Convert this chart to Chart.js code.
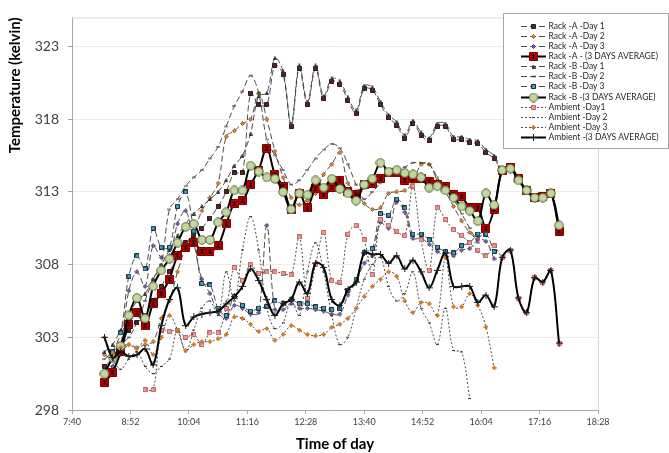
<!DOCTYPE html>
<html>
<head>
<meta charset="utf-8">
<script src="https://cdn.jsdelivr.net/npm/chart.js@4.4.0/dist/chart.umd.min.js"></script>
<style>
  html, body { margin: 0; padding: 0; background: #fff; }
  #wrap { width: 669px; height: 453px; }
</style>
</head>
<body>
<div id="wrap"><canvas id="chart" width="669" height="453"></canvas></div>
<script>
// sample times (10 min readings)
const times = [
  '8:20','8:30','8:40','8:50','9:00','9:10','9:20','9:30','9:40','9:50',
  '10:00','10:10','10:20','10:30','10:40','10:50','11:00','11:10','11:20','11:30',
  '11:40','11:50','12:00','12:10','12:20','12:30','12:40','12:50','13:00','13:10',
  '13:20','13:30','13:40','13:50','14:00','14:10','14:20','14:30','14:40','14:50',
  '15:00','15:10','15:20','15:30','15:40','15:50','16:00','16:10','16:20','16:30',
  '16:40','16:50','17:00','17:10','17:20','17:30','17:40'
];
const xTickLabels = ['7:40','8:52','10:04','11:16','12:28','13:40','14:52','16:04','17:16','18:28'];
const yTickValues = [298, 303, 308, 313, 318, 323];

const rackA1 = [
  301.0,301.5,302.5,303.5,304.0,304.5,305.5,306.5,307.5,308.5,
  309.5,310.0,310.5,311.2,312.0,313.0,314.3,314.3,319.8,319.0,
  319.0,321.7,321.1,317.5,321.5,319.0,321.5,319.4,320.6,320.4,
  319.3,318.4,320.1,320.0,319.0,318.1,317.6,316.7,317.7,316.9,
  316.5,317.5,317.5,316.6,316.6,316.4,316.3,315.7,315.3,314.5,
  314.7,313.9,313.1,312.6,312.7,312.9,310.3
];
const rackA2 = [
  301.8,301.5,301.8,302.5,302.3,302.5,302.7,304.3,305.5,307.5,
  309.2,310.3,311.7,312.6,313.6,316.8,317.2,317.7,318.0,319.8,
  318.0,315.8,314.0,312.6,312.1,312.4,312.9,314.2,314.9,315.7,
  313.6,313.0,312.2,311.8,311.9,312.9,313.0,313.1,313.6,314.9,
  314.9,313.8,313.0,312.0,311.0,310.2,309.8,310.5,null,null,
  null,null,null,null,null,null,null
];
const rackA3 = [
  300.5,301.0,302.5,306.2,307.5,306.5,309.3,308.5,308.6,310.8,
  311.7,309.5,307.0,306.0,304.7,304.3,305.2,305.0,304.6,304.7,
  310.7,304.9,304.9,305.3,305.0,305.0,304.9,304.8,304.6,304.6,
  305.9,306.8,308.1,308.6,310.9,310.5,312.3,311.6,309.8,309.8,
  309.4,308.9,308.6,308.6,309.0,309.1,309.7,309.6,308.4,null,
  null,null,null,null,null,null,null
];
const rackAAvg = [
  299.9,300.6,302.0,303.9,304.7,303.8,305.3,306.0,307.0,308.6,
  309.2,309.5,308.9,308.9,309.3,310.8,312.2,312.4,313.5,314.5,
  316.0,314.2,313.4,311.8,312.9,311.9,313.2,312.8,313.3,313.8,
  313.0,312.8,313.5,313.6,313.9,314.3,314.3,313.8,313.9,313.9,
  313.7,313.5,313.4,312.8,312.7,311.9,311.9,310.5,311.8,314.5,
  314.7,313.9,313.1,312.6,312.7,312.9,310.3
];
const rackB1 = [
  302.0,302.5,303.5,304.5,305.5,306.0,307.0,308.0,309.0,310.0,
  310.8,311.5,312.0,312.5,313.0,313.8,314.8,315.5,317.0,319.6,
  319.8,322.2,321.3,317.7,321.7,319.2,321.7,319.6,320.8,320.6,
  319.5,318.6,320.3,320.2,319.2,318.3,317.8,316.9,317.9,317.1,
  316.7,317.7,317.7,316.8,316.8,316.6,316.5,315.9,315.5,314.5,
  314.6,313.8,313.1,312.6,312.6,312.9,310.7
];
const rackB2 = [
  301.5,302.0,302.5,303.0,304.0,305.5,307.0,308.0,311.8,312.5,
  313.4,314.0,314.5,315.3,316.1,317.5,318.9,319.9,321.0,319.8,
  316.6,315.5,314.5,313.5,313.8,314.5,315.3,315.9,316.3,316.0,
  314.9,313.5,312.5,313.0,313.6,314.2,314.5,314.7,315.0,315.0,
  314.9,314.0,313.2,312.5,311.5,310.5,309.5,null,null,null,
  null,null,null,null,null,null,null
];
const rackB3 = [
  null,302.0,303.3,307.2,308.6,307.7,310.5,309.2,309.2,312.0,
  313.0,310.3,306.7,306.6,305.0,304.5,305.8,305.2,304.8,305.0,
  305.1,305.5,305.3,305.6,305.3,305.3,305.1,305.0,304.9,305.0,
  306.2,307.0,308.8,309.1,311.5,311.4,312.5,311.9,310.1,310.1,
  309.7,309.2,308.9,308.8,309.3,309.5,310.1,310.1,308.9,null,
  null,null,null,null,null,null,null
];
const rackBAvg = [
  300.5,301.6,302.4,304.5,305.7,304.3,306.5,307.6,308.4,309.5,
  310.6,310.8,309.7,309.7,310.9,311.6,313.1,313.1,314.8,314.4,
  314.0,313.9,313.0,311.8,312.9,312.8,313.8,313.3,313.9,313.2,
  312.9,312.4,313.5,313.9,315.0,314.4,314.5,314.3,314.2,314.0,
  313.3,313.4,313.1,312.6,312.0,311.7,311.0,312.9,312.1,314.5,
  314.6,313.8,313.1,312.6,312.6,312.9,310.7
];
const ambient1 = [
  null,null,null,null,null,299.4,299.4,303.5,303.4,303.5,
  303.0,303.2,302.5,303.3,303.3,305.0,307.8,306.9,308.0,307.4,
  307.5,307.5,307.4,307.3,309.9,305.7,308.0,310.2,306.9,306.8,
  310.1,310.7,309.7,307.3,311.1,310.7,310.3,310.0,313.4,309.7,
  307.6,311.9,311.1,310.4,310.0,309.5,309.0,308.6,309.3,308.5,
  309.0,305.7,304.7,307.1,306.8,307.6,302.6
];
const ambient2 = [
  null,301.5,300.8,301.5,302.0,301.0,300.5,301.0,301.5,303.5,
  302.0,303.5,305.0,305.5,304.5,307.5,305.5,309.0,311.3,309.0,
  305.0,303.6,304.0,305.5,304.5,307.5,309.5,307.5,304.5,302.5,
  303.0,305.0,307.0,308.0,308.5,306.5,305.5,306.0,307.5,305.0,
  304.0,302.5,305.0,302.1,302.0,298.8,null,null,null,null,
  null,null,null,null,null,null,null
];
const ambient3 = [
  303.0,301.9,302.3,302.5,302.2,302.8,301.8,303.0,304.5,303.5,
  302.1,302.5,302.7,302.7,302.9,303.2,304.4,304.3,303.9,303.4,
  303.6,302.8,303.2,303.8,303.5,303.2,303.1,303.2,303.7,303.9,
  304.3,305.0,305.8,306.5,307.0,307.5,307.2,305.5,304.7,305.4,
  305.3,304.5,308.5,305.1,305.1,306.0,305.2,303.7,300.9,null,
  null,null,null,null,null,null,null
];
const ambientAvg = [
  303.0,301.6,302.0,301.7,301.8,302.2,301.1,303.8,305.6,306.4,
  303.8,304.4,304.6,304.7,304.8,305.3,305.8,306.5,307.7,306.9,
  305.6,304.5,305.3,305.6,306.8,306.0,308.1,307.8,305.6,305.2,
  306.3,306.8,308.8,308.7,308.7,308.1,308.6,307.7,308.3,307.5,
  306.4,307.6,308.8,306.5,306.5,306.5,305.4,305.9,305.1,308.5,
  309.0,305.7,304.7,307.1,306.8,307.6,302.6
];

const toMinutes = (label) => {
  const [h, m] = label.split(':').map(Number);
  return h * 60 + m;
};
const xTickValues = xTickLabels.map(toMinutes);
const timeMinutes = times.map(toMinutes);
const fmtTime = (v) => `${Math.floor(v / 60)}:${String(v % 60).padStart(2, '0')}`;

// small canvas markers, Excel style
function makeMarker(kind, size, fill, stroke) {
  const c = document.createElement('canvas');
  c.width = size;
  c.height = size;
  const g = c.getContext('2d');
  const m = size / 2;
  g.fillStyle = fill;
  g.strokeStyle = stroke;
  g.lineWidth = 1;
  g.beginPath();
  if (kind === 'square' || kind === 'squareX') {
    g.rect(0.5, 0.5, size - 1, size - 1);
    g.fill();
    g.stroke();
    if (kind === 'squareX') {
      g.beginPath();
      g.strokeStyle = '#000';
      g.moveTo(2.5, 2.5); g.lineTo(size - 2.5, size - 2.5);
      g.moveTo(size - 2.5, 2.5); g.lineTo(2.5, size - 2.5);
      g.moveTo(m, 2); g.lineTo(m, size - 2);
      g.stroke();
    }
  } else if (kind === 'diamond') {
    g.moveTo(m, 0.5); g.lineTo(size - 0.5, m); g.lineTo(m, size - 0.5); g.lineTo(0.5, m);
    g.closePath(); g.fill(); g.stroke();
  } else if (kind === 'triangle') {
    g.moveTo(m, 0.5); g.lineTo(size - 0.5, size - 0.5); g.lineTo(0.5, size - 0.5);
    g.closePath(); g.fill(); g.stroke();
  } else if (kind === 'circle') {
    g.arc(m, m, m - 0.75, 0, Math.PI * 2);
    g.fill(); g.stroke();
  } else if (kind === 'dash') {
    g.fillStyle = stroke;
    g.fillRect(0, m - 0.5, size, 1);
  } else if (kind === 'plus') {
    g.moveTo(m, 0); g.lineTo(m, size);
    g.moveTo(0, m); g.lineTo(size, m);
    g.stroke();
  } else if (kind === 'star') {
    g.moveTo(m, 0); g.lineTo(m, size);
    g.moveTo(0, m); g.lineTo(size, m);
    g.moveTo(1, 1); g.lineTo(size - 1, size - 1);
    g.moveTo(size - 1, 1); g.lineTo(1, size - 1);
    g.stroke();
  }
  return c;
}

const DASH = [6, 3];
const DOT = [2, 2];
const THIN = '#3a3a3a';

const seriesDefs = [
  { label: 'Rack -A -Day 1', data: rackA1, width: 0.9, dash: DASH, color: THIN, marker: makeMarker('square', 5, '#6b1d1d', '#1e1e1e') },
  { label: 'Rack -A -Day 2', data: rackA2, width: 0.9, dash: DASH, color: THIN, marker: makeMarker('diamond', 5, '#e3892f', '#8a5622') },
  { label: 'Rack -A -Day 3', data: rackA3, width: 0.9, dash: DASH, color: THIN, marker: makeMarker('diamond', 5, '#7d64a8', '#4d3a70') },
  { label: 'Rack -A - (3 DAYS AVERAGE)', data: rackAAvg, width: 2, dash: [], color: '#000', marker: makeMarker('squareX', 9, '#c00000', '#7a0000') },
  { label: 'Rack -B -Day 1', data: rackB1, width: 0.9, dash: DASH, color: THIN, marker: makeMarker('triangle', 4, '#333', '#333') },
  { label: 'Rack -B -Day 2', data: rackB2, width: 0.9, dash: DASH, color: THIN, marker: makeMarker('dash', 4, '#333', '#333') },
  { label: 'Rack -B -Day 3', data: rackB3, width: 0.9, dash: DASH, color: THIN, marker: makeMarker('square', 5, '#3aa3c4', '#1c2a30') },
  { label: 'Rack -B -(3 DAYS AVERAGE)', data: rackBAvg, width: 2, dash: [], color: '#000', marker: makeMarker('circle', 10, '#c4d7a0', '#5a6b3c') },
  { label: 'Ambient -Day1', data: ambient1, width: 0.9, dash: DOT, color: THIN, marker: makeMarker('square', 5, '#e4a0a0', '#c06060') },
  { label: 'Ambient -Day 2', data: ambient2, width: 0.9, dash: DOT, color: THIN, marker: makeMarker('dash', 3, '#333', '#333') },
  { label: 'Ambient -Day 3', data: ambient3, width: 0.9, dash: DOT, color: THIN, marker: makeMarker('star', 5, '#e3892f', '#d07a28') },
  { label: 'Ambient -(3 DAYS AVERAGE)', data: ambientAvg, width: 2, dash: [], color: '#000', marker: makeMarker('plus', 7, '#000', '#222') }
];

const datasets = seriesDefs.map((s, index) => ({
  label: s.label,
  data: s.data.map((v, i) => ({ x: timeMinutes[i], y: v })),
  borderColor: s.color,
  borderWidth: s.width,
  borderDash: s.dash,
  pointStyle: s.marker,
  pointRadius: 3,
  tension: 0.35,
  spanGaps: false,
  order: seriesDefs.length - index
}));

// legend box drawn inside the plot, like the spreadsheet one
const boxLegend = {
  id: 'boxLegend',
  afterDraw(chart) {
    const ctx = chart.ctx;
    const { top, right, bottom, left } = chart.chartArea;
    ctx.save();
    // plot frame top / right
    ctx.strokeStyle = '#d9d9d9';
    ctx.lineWidth = 1;
    ctx.beginPath();
    ctx.moveTo(left, top + 0.5); ctx.lineTo(right + 0.5, top + 0.5); ctx.lineTo(right + 0.5, bottom);
    ctx.stroke();

    const bx = 503.5, by = 13.5, bw = 165, bh = 135;
    ctx.fillStyle = '#fff';
    ctx.fillRect(bx, by, bw, bh);
    ctx.strokeStyle = '#a6a6a6';
    ctx.strokeRect(bx, by, bw, bh);
    ctx.font = '8.5px Lato';
    ctx.textBaseline = 'middle';
    seriesDefs.forEach((s, i) => {
      const y = Math.round(by + 12 + i * 10.15) + 0.5;
      ctx.strokeStyle = s.color;
      ctx.lineWidth = s.width;
      ctx.setLineDash(s.dash);
      ctx.beginPath();
      ctx.moveTo(521, y); ctx.lineTo(546, y);
      ctx.stroke();
      ctx.setLineDash([]);
      ctx.drawImage(s.marker, 533.5 - s.marker.width / 2, y - s.marker.height / 2);
      ctx.fillStyle = '#262626';
      ctx.fillText(s.label, 548.5, y);
    });
    ctx.restore();
  }
};

new Chart(document.getElementById('chart'), {
  type: 'line',
  data: { datasets },
  options: {
    responsive: false,
    animation: false,
    events: [],
    layout: { padding: { top: 7, right: 71, left: 0, bottom: 0 } },
    plugins: {
      legend: { display: false },
      tooltip: { enabled: false }
    },
    scales: {
      x: {
        type: 'linear',
        min: xTickValues[0],
        max: xTickValues[xTickValues.length - 1],
        afterBuildTicks: (scale) => { scale.ticks = xTickValues.map((v) => ({ value: v })); },
        afterFit: (scale) => { scale.height = 43; },
        grid: { drawOnChartArea: false, drawTicks: true, tickLength: 4, tickColor: '#a6a6a6' },
        border: { color: '#a6a6a6', width: 1 },
        ticks: {
          autoSkip: false,
          maxRotation: 0,
          padding: 3,
          color: '#404040',
          font: { family: 'Lato', size: 9 },
          callback: (v) => fmtTime(v)
        },
        title: {
          display: true,
          text: 'Time of day',
          color: '#000',
          font: { family: 'Lato', size: 15, weight: 'bold' },
          padding: { top: 0, bottom: 0 }
        }
      },
      y: {
        min: 298,
        max: 325,
        afterBuildTicks: (scale) => { scale.ticks = yTickValues.map((v) => ({ value: v })); },
        afterFit: (scale) => { scale.width = 72; },
        grid: { color: '#ececec', drawTicks: true, tickLength: 4, tickColor: '#a6a6a6' },
        border: { color: '#a6a6a6', width: 1 },
        ticks: {
          padding: 9,
          color: '#404040',
          font: { family: 'Lato', size: 14 }
        },
        title: {
          display: true,
          text: 'Temperature (kelvin)',
          align: 'end',
          color: '#000',
          font: { family: 'Lato', size: 15, weight: 'bold' },
          padding: { top: 6, bottom: 0 }
        }
      }
    }
  },
  plugins: [boxLegend]
});
</script>
</body>
</html>
